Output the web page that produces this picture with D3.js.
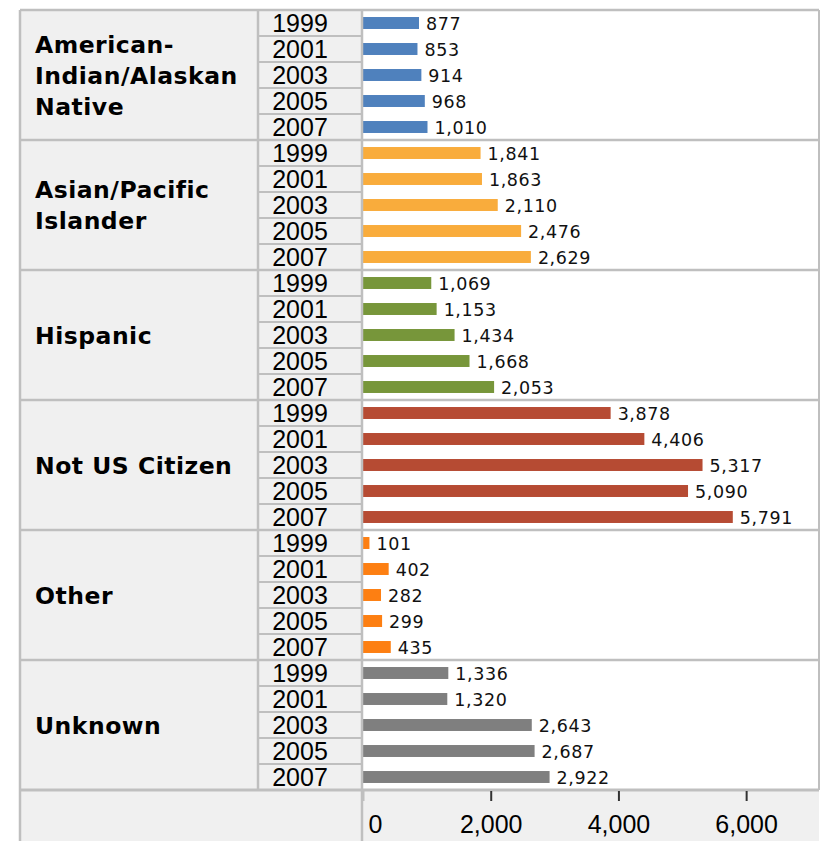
<!DOCTYPE html>
<html>
<head>
<meta charset="utf-8">
<script src="https://cdn.jsdelivr.net/npm/d3@7/dist/d3.min.js"></script>
<style>
  html, body { margin: 0; padding: 0; background: #ffffff; }
  svg { display: block; }
</style>
</head>
<body>
<svg id="chart" width="825" height="841"></svg>
<script>
// ---------- data ----------
const categories = ["American-Indian/Alaskan Native", "Asian/Pacific Islander", "Hispanic", "Not US Citizen", "Other", "Unknown"];
const categoryLines = [["American-", "Indian/Alaskan", "Native"], ["Asian/Pacific", "Islander"], ["Hispanic"], ["Not US Citizen"], ["Other"], ["Unknown"]];
const years = ["1999", "2001", "2003", "2005", "2007"];
const valuesAmericanIndian = [877, 853, 914, 968, 1010];
const valuesAsianPacific = [1841, 1863, 2110, 2476, 2629];
const valuesHispanic = [1069, 1153, 1434, 1668, 2053];
const valuesNotUSCitizen = [3878, 4406, 5317, 5090, 5791];
const valuesOther = [101, 402, 282, 299, 435];
const valuesUnknown = [1336, 1320, 2643, 2687, 2922];
const seriesValues = [valuesAmericanIndian, valuesAsianPacific, valuesHispanic, valuesNotUSCitizen, valuesOther, valuesUnknown];
const colors = ["#4F81BD", "#F9AC3C", "#77963A", "#B64B33", "#FD7F12", "#7F7F7F"];
const tickValues = [0, 2000, 4000, 6000];
const xMax = 7000;

// ---------- layout ----------
const svg = d3.select("#chart");
const L = { left: 20, catRight: 258, yearRight: 362, plotRight: 819, top: 10, plotBottom: 790, bottom: 841 };
const border = "#BFBFBF";
const cellFill = "#F0F0F0";

const yGroup = d3.scaleBand().domain(categories).range([L.top, L.plotBottom]).padding(0);
const yRow = d3.scaleBand().domain(years).range([0, yGroup.bandwidth()]).padding(0);
const x = d3.scaleLinear().domain([0, xMax]).range([363, 810]);
const barH = yRow.bandwidth() * 0.46;

// backgrounds
svg.append("rect").attr("x", L.left).attr("y", L.top).attr("width", L.yearRight - L.left).attr("height", L.bottom - L.top).attr("fill", cellFill);
svg.append("rect").attr("x", L.yearRight).attr("y", L.top).attr("width", L.plotRight - L.yearRight).attr("height", L.plotBottom - L.top).attr("fill", "#ffffff");
svg.append("rect").attr("x", L.yearRight).attr("y", L.plotBottom).attr("width", L.plotRight - L.yearRight).attr("height", L.bottom - L.plotBottom).attr("fill", cellFill);

const groups = categories.map((c, i) => ({ cat: c, lines: categoryLines[i], vals: seriesValues[i], color: colors[i] }));

const g = svg.selectAll("g.grp").data(groups).join("g").attr("class", "grp")
  .attr("transform", d => `translate(0,${yGroup(d.cat)})`);

// year row separators
g.each(function(d) {
  const sel = d3.select(this);
  years.slice(1).forEach(yr => {
    sel.append("line").attr("x1", L.catRight).attr("x2", L.yearRight)
      .attr("y1", yRow(yr)).attr("y2", yRow(yr)).attr("stroke", border).attr("stroke-width", 2);
  });
});

// year labels
g.selectAll("text.year").data(d => years).join("text").attr("class", "year")
  .attr("x", 300).attr("y", yr => yRow(yr) + yRow.bandwidth() / 2 + 9)
  .attr("text-anchor", "middle")
  .style("font-family", "'Liberation Sans', Arial, sans-serif").style("font-size", "25px").attr("fill", "#000")
  .text(yr => yr);

// category labels
g.each(function(d) {
  const sel = d3.select(this);
  const n = d.lines.length;
  const cy = yGroup.bandwidth() / 2;
  d.lines.forEach((ln, k) => {
    sel.append("text").attr("x", 35).attr("y", cy + 8.5 + (k - (n - 1) / 2) * 31)
      .style("font-family", "'DejaVu Sans', sans-serif").style("font-weight", "bold")
      .style("font-size", "23.5px").style("letter-spacing", "0.5px").attr("fill", "#000")
      .text(ln);
  });
});

// bars
g.selectAll("rect.bar").data(d => d.vals.map((v, j) => ({ v, yr: years[j], color: d.color }))).join("rect").attr("class", "bar")
  .attr("x", x(0)).attr("y", d => yRow(d.yr) + (yRow.bandwidth() - barH) / 2)
  .attr("width", d => x(d.v) - x(0)).attr("height", barH).attr("fill", d => d.color);

// value labels
const fmt = d3.format(",");
g.selectAll("text.val").data(d => d.vals.map((v, j) => ({ v, yr: years[j] }))).join("text").attr("class", "val")
  .attr("x", d => x(d.v) + 7).attr("y", d => yRow(d.yr) + yRow.bandwidth() / 2 + 6.8)
  .style("font-family", "'DejaVu Sans', sans-serif").style("font-size", "17.5px").style("letter-spacing", "0.6px").attr("fill", "#111")
  .text(d => fmt(d.v));

// group separators / borders
categories.slice(1).forEach(c => {
  svg.append("line").attr("x1", L.left).attr("x2", L.plotRight).attr("y1", yGroup(c)).attr("y2", yGroup(c))
    .attr("stroke", border).attr("stroke-width", 2.5);
});
svg.append("line").attr("x1", L.left).attr("x2", L.plotRight).attr("y1", L.top).attr("y2", L.top).attr("stroke", border).attr("stroke-width", 2.5);
svg.append("line").attr("x1", L.left).attr("x2", L.plotRight).attr("y1", L.plotBottom).attr("y2", L.plotBottom).attr("stroke", border).attr("stroke-width", 3);
svg.append("line").attr("x1", L.left).attr("x2", L.left).attr("y1", L.top).attr("y2", L.bottom).attr("stroke", border).attr("stroke-width", 2.5);
svg.append("line").attr("x1", L.catRight).attr("x2", L.catRight).attr("y1", L.top).attr("y2", L.plotBottom).attr("stroke", border).attr("stroke-width", 2.5);
svg.append("line").attr("x1", L.yearRight).attr("x2", L.yearRight).attr("y1", L.top).attr("y2", L.bottom).attr("stroke", border).attr("stroke-width", 2.5);
svg.append("line").attr("x1", L.plotRight).attr("x2", L.plotRight).attr("y1", L.top).attr("y2", L.plotBottom).attr("stroke", border).attr("stroke-width", 2);

// axis
const axis = svg.append("g").attr("transform", `translate(0,${L.plotBottom + 1})`)
  .call(d3.axisBottom(x).tickValues(tickValues).tickFormat(fmt).tickSize(10).tickPadding(14));
axis.select(".domain").remove();
axis.selectAll(".tick line").attr("stroke", d => d === 0 ? border : "#333").attr("stroke-width", 2);
axis.selectAll(".tick text")
  .style("font-family", "'Liberation Sans', Arial, sans-serif").style("font-size", "25px").attr("fill", "#000")
  .attr("text-anchor", d => d === 0 ? "start" : "middle")
  .attr("x", d => d === 0 ? 5 : 0);
</script>
</body>
</html>
